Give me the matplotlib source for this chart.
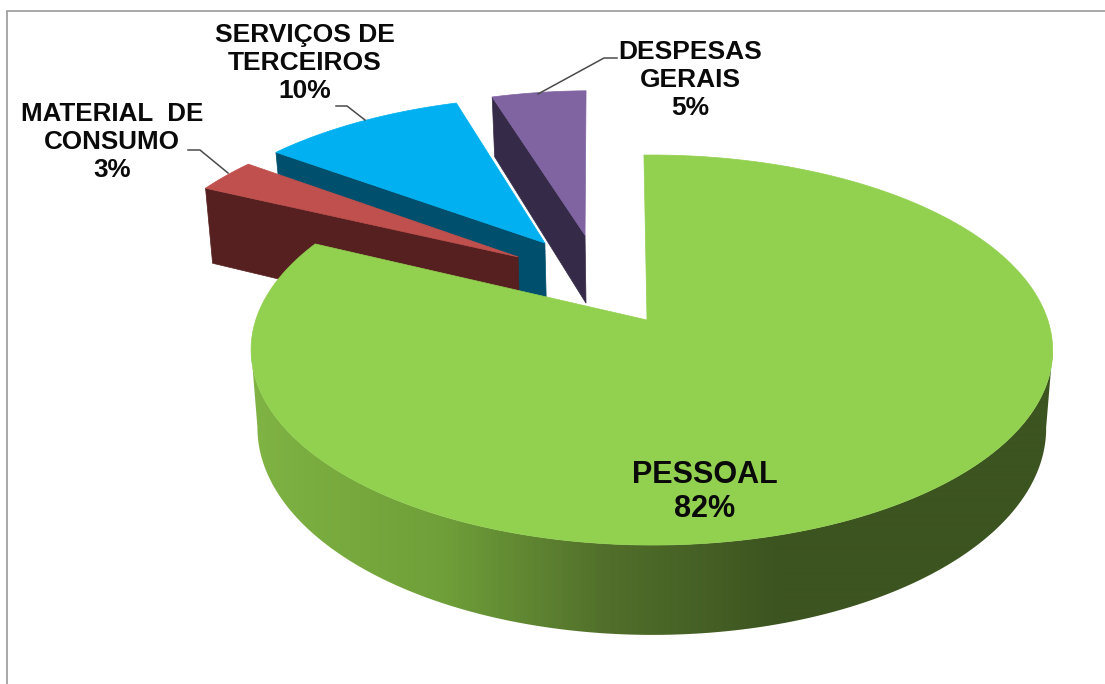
"""3D exploded pie of expense shares, drawn by hand in pixel coordinates."""

import numpy as np
import matplotlib
matplotlib.use("Agg")
import matplotlib.pyplot as plt
from matplotlib.colors import LinearSegmentedColormap, Normalize
from matplotlib.patches import Polygon

# ─── data ─────────────────────────────────────────────────────────────────────
slices = ["PESSOAL", "MATERIAL  DE\nCONSUMO", "SERVIÇOS DE\nTERCEIROS", "DESPESAS\nGERAIS"]
shares = [82, 3, 10, 5]

# ─── style ────────────────────────────────────────────────────────────────────
top_colors = ["#92d050", "#c0504d", "#00b0f0", "#8064a2"]
wall_colors = [None, "#55201f", "#004f6d", "#352a47"]
explode = [(0.0, 0.0), (-0.343, 0.349), (-0.275, 0.431), (-0.168, 0.478)]
rim_shift = [0.012, 0.0, 0.0, 0.0]  # big slice's rim sits a bit right of its apex
depths = [76, 84, 73, 73]
label_pos = [(705, 492), (112, 142), (305, 63), (690, 80)]
label_size = [22, 18.7, 19, 19]
label_spacing = [1.15, 1.22, 1.22, 1.22]

# projection of the unit disc: apex, radii, perspective strength
CX, CY = 647, 320
RX, RY = 396, 190.4
K = 0.154
SHRINK = 0.984
SEAM = -1.2  # the 12 o'clock edge leans slightly left

side_cmap = LinearSegmentedColormap.from_list(
    "side", [(0.0, "#7fb343"), (0.36, "#6f9f39"), (0.66, "#52702b"), (1.0, "#3c5420")]
)


def project(u, v):
    den = 1 + K * v
    return CX + RX * u / den, CY - RY * v / den


def project_low(u, v, depth):
    x, y = project(u, v)
    den = 1 + K * v
    return CX + (x - CX) * SHRINK, y + depth / den


def arc(a0, a1, n=360):
    t = np.radians(np.linspace(a0, a1, n))
    return np.sin(t), np.cos(t)


fig = plt.figure(figsize=(11.05, 6.84), dpi=100, facecolor="white")
ax = fig.add_axes([0, 0, 1, 1])

# frame of the chart area, the crop cuts the other two sides
ax.plot([7, 7, 1105], [684, 11, 11], color="#9a9a9a", lw=1.2, solid_joinstyle="miter")

edges = np.cumsum([0] + shares) * 3.6
edges[0] += SEAM
edges[-1] += SEAM

# far slices first so the big one covers them
for i in [3, 2, 1, 0]:
    a0, a1 = edges[i], edges[i + 1]
    du, dv = explode[i]
    u, v = arc(a0, a1)
    u = u + du + rim_shift[i]
    v = v + dv
    depth = depths[i]

    if i == 0:
        # front silhouette of the wall, shaded left to right through a clipped gradient
        bx, by = project_low(u, v, depth)
        tx, ty = project(u, v)
        r_top, l_top = tx.argmax(), tx.argmin()
        r_low, l_low = bx.argmax(), bx.argmin()
        outline = np.c_[
            np.r_[tx[r_top:l_top + 1], bx[r_low:l_low + 1][::-1]],
            np.r_[ty[r_top:l_top + 1], by[r_low:l_low + 1][::-1]],
        ]
        wall = Polygon(outline, closed=True, facecolor="none", edgecolor="none",
                       transform=ax.transData)
        ax.add_patch(wall)
        xs = np.linspace(230, 1070, 840)
        im = ax.imshow(
            xs[None, :], extent=(230, 1070, 660, 140), cmap=side_cmap,
            norm=Normalize(255, 780), aspect="auto", interpolation="bilinear",
        )
        im.set_clip_path(wall)
    else:
        # radial face looking at the viewer
        ru = np.array([u[0], du])
        rv = np.array([v[0], dv])
        tx, ty = project(ru, rv)
        bx, by = project_low(ru, rv, depth)
        ax.fill(
            np.r_[tx, bx[::-1]], np.r_[ty, by[::-1]],
            color=wall_colors[i], lw=0.5,
        )

    # top face
    x, y = project(u, v)
    ax_, ay_ = project(du, dv)
    ax.fill(np.r_[ax_, x], np.r_[ay_, y], color=top_colors[i], lw=0.5)

ax.set_xlim(0, 1105)
ax.set_ylim(684, 0)
ax.axis("off")

# leader lines
leaders_x = [[188, 200, 228], [336, 347, 365], [538, 604, 617]]
leaders_y = [[150, 150, 173], [106, 106, 120], [94, 58, 58]]
for lx, ly in zip(leaders_x, leaders_y):
    ax.plot(lx, ly, color="#4a4a4a", lw=1.1)

# labels
for name, pct, pos, size, sp in zip(slices, shares, label_pos, label_size, label_spacing):
    ax.text(
        pos[0], pos[1], f"{name}\n{pct}%",
        ha="center", va="center", ma="center",
        family="Liberation Sans", fontweight="bold", fontsize=size,
        color="#0a0a0a", linespacing=sp,
    )

fig.savefig("out.png", dpi=100)
